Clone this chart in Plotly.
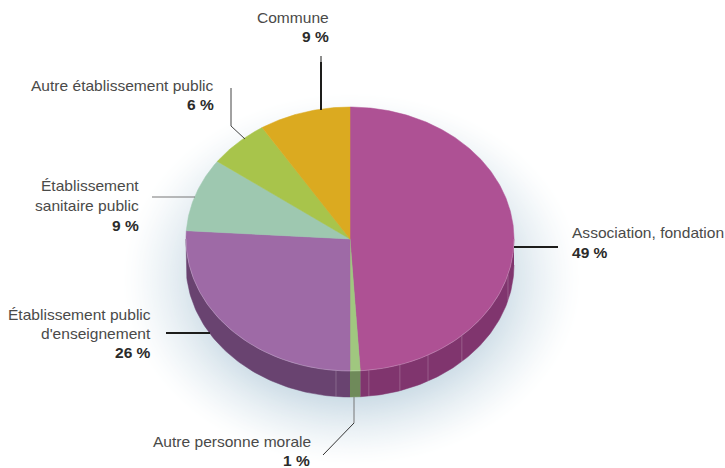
import numpy as np
import plotly.graph_objects as go

# Parts of the total, clockwise from twelve o'clock
categories = ["Association, fondation", "Autre personne morale",
              "Établissement public d'enseignement", "Établissement sanitaire public",
              "Autre établissement public", "Commune"]
shares = [49, 1, 26, 9, 6, 9]
top_colors = ["#ae5194", "#a0c77f", "#9e6aa6", "#9ec8b0", "#a8c44b", "#dbaa20"]
side_colors = ["#80356e", "#6f8a5a", "#694370", "#6f9080", "#75893a", "#99770f"]
seam_bearings = [105.6, 137, 151.6, 162.3, 173.4, 184.9]  # bearings of the facet lines on the rim

WIDTH, HEIGHT = 725, 468
CX, CY, RX, RY, DEPTH = 350, 239, 164, 132, 26


def xfrac(px):
    return px / WIDTH


def yfrac(py):
    return 1 - py / HEIGHT


def bearing_xy(deg, drop=0.0):
    """Bearing in degrees to unit-disc coordinates, optionally lowered by the disc thickness."""
    t = np.radians(deg)
    return np.sin(t), np.cos(t) - drop


drop = DEPTH / RY
fig = go.Figure()

edges = np.cumsum([0] + shares) * 3.6

# Rim of the disc: only the part facing the viewer (bearings 90 to 270)
for i, color in enumerate(side_colors):
    a, b = max(edges[i], 90), min(edges[i + 1], 270)
    if a >= b:
        continue
    ts = np.linspace(a, b, 80)
    xt, yt = bearing_xy(ts)
    xb, yb = bearing_xy(ts[::-1], drop)
    fig.add_trace(go.Scatter(x=np.r_[xt, xb], y=np.r_[yt, yb], mode="lines", fill="toself",
                             fillcolor=color, line=dict(color=color, width=0.5),
                             hoverinfo="skip", showlegend=False))

# Facet lines on the rim
for deg in seam_bearings:
    xt, yt = bearing_xy(deg)
    xb, yb = bearing_xy(deg, drop)
    fig.add_trace(go.Scatter(x=[xt, xb], y=[yt, yb], mode="lines",
                             line=dict(color="rgba(255,255,255,0.2)", width=1),
                             hoverinfo="skip", showlegend=False))

# Slices of the top face
for i, color in enumerate(top_colors):
    ts = np.linspace(edges[i], edges[i + 1], max(4, int(shares[i] * 6)))
    xs, ys = bearing_xy(ts)
    fig.add_trace(go.Scatter(x=np.r_[0, xs, 0], y=np.r_[0, ys, 0], mode="lines", fill="toself",
                             fillcolor=color, line=dict(color=color, width=0.5),
                             name=categories[i], hoverinfo="name", showlegend=False))

# Pale highlight where the top face meets the rim
ts = np.linspace(90, 270, 200)
xs, ys = bearing_xy(ts)
fig.add_trace(go.Scatter(x=xs, y=ys, mode="lines", line=dict(color="rgba(255,255,255,0.25)", width=0.8),
                         hoverinfo="skip", showlegend=False))

# Soft blue glow under the disc: opaque rings easing from white to a pale slate blue
shapes = []
N = 60
GX, GY, GRX, GRY = 352, 279, 232, 188
INNER = np.array([188, 209, 222])
OUTER = np.array([255, 255, 255])
for k in range(N):
    s = k / (N - 1)
    f = 1 - 0.45 * s
    c = OUTER + (INNER - OUTER) * s ** 1.4
    shapes.append(dict(type="circle", xref="paper", yref="paper", layer="below",
                       x0=xfrac(GX - GRX * f), x1=xfrac(GX + GRX * f),
                       y0=yfrac(GY + GRY * f), y1=yfrac(GY - GRY * f),
                       fillcolor=f"rgb({c[0]:.0f},{c[1]:.0f},{c[2]:.0f})", line=dict(width=0)))


def leader(points, color, width):
    for (x0, y0), (x1, y1) in zip(points[:-1], points[1:]):
        shapes.append(dict(type="line", xref="paper", yref="paper",
                           x0=xfrac(x0), y0=yfrac(y0), x1=xfrac(x1), y1=yfrac(y1),
                           line=dict(color=color, width=width)))


leader([(514, 247), (558, 247)], "#1d1d1b", 2)
leader([(321, 56), (321, 62)], "#1d1d1b", 1)
leader([(321, 62), (321, 110)], "#1d1d1b", 2)
leader([(231, 88), (231, 126), (245, 139)], "#444444", 1)
leader([(152, 197), (195, 197)], "#777777", 1)
leader([(166, 333), (210, 333)], "#1d1d1b", 2)
leader([(354, 397), (354, 423)], "#777777", 1)
leader([(354, 423), (323, 455)], "#333333", 1)

LABEL = "#4a4a49"
VALUE = "#2b2b2a"
FONT = "Liberation Sans, Arial, sans-serif"
SIZE = 15.55


def label(px, py, text, anchor):
    return dict(xref="paper", yref="paper", x=xfrac(px), y=yfrac(py), text=text, showarrow=False,
                xanchor=anchor, yanchor="middle", align=anchor, borderpad=0, borderwidth=0,
                font=dict(family=FONT, size=SIZE, color=LABEL))


def value(px, py, share, anchor):
    return dict(xref="paper", yref="paper", x=xfrac(px), y=yfrac(py), text=f"{share} %",
                showarrow=False, xanchor=anchor, yanchor="middle", align=anchor,
                borderpad=0, borderwidth=0,
                font=dict(family=FONT, size=SIZE, color=VALUE, weight=700))


annotations = [
    label(572, 232, "Association, fondation", "left"), value(572, 252, shares[0], "left"),
    label(311, 441, "Autre personne morale", "right"), value(310, 460, shares[1], "right"),
    label(151, 314, "Établissement public", "right"), label(151, 333, "d'enseignement", "right"),
    value(151, 352, shares[2], "right"),
    label(139, 186, "Établissement", "right"), label(139, 205, "sanitaire public", "right"),
    value(139, 225, shares[3], "right"),
    label(214, 85, "Autre établissement public", "right"), value(214, 105, shares[4], "right"),
    label(329, 18, "Commune", "right"), value(329, 37, shares[5], "right"),
]

fig.update_layout(
    width=WIDTH, height=HEIGHT, margin=dict(l=0, r=0, t=0, b=0),
    paper_bgcolor="white", plot_bgcolor="rgba(0,0,0,0)", showlegend=False,
    xaxis=dict(range=[-CX / RX, (WIDTH - CX) / RX], visible=False, fixedrange=True),
    yaxis=dict(range=[(CY - HEIGHT) / RY, CY / RY], visible=False, fixedrange=True),
    shapes=shapes, annotations=annotations,
)
fig.write_html("out.html", config=dict(displayModeBar=False))
